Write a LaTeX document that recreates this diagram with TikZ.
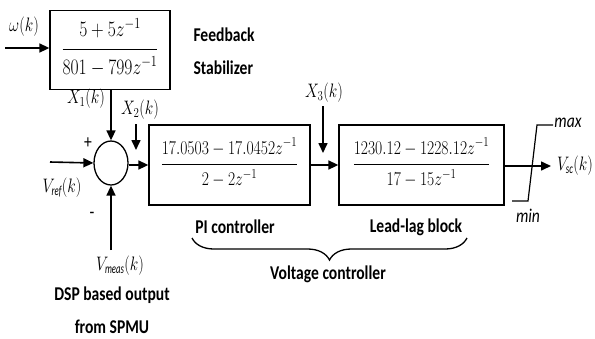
\RequirePackage{fix-cm}
\documentclass[tikz,border=0pt]{standalone}
\usepackage{amsmath}
\usepackage{graphicx}
\usepackage{fontspec}
\setmainfont{Carlito}[FakeStretch=0.8]
\usetikzlibrary{arrows.meta, positioning, shapes.geometric, decorations.pathreplacing}

\setlength{\arrayrulewidth}{1.6pt}
% narrow math, as the text is set
\newcommand{\nm}[1]{\scalebox{0.8}[1]{$#1$}}
% #1 gap over the bar, #2 strut under it
\newcommand{\blockfrac}[4]{%
  \scalebox{0.8}[1]{\begin{tabular}{@{}c@{}}$#3$\\[#1]\hline
    \rule{0pt}{#2}$#4$\end{tabular}}}

\begin{document}
\begin{tikzpicture}[
    x=1pt, y=-1pt,
    font=\fontsize{19.5}{22}\selectfont,
    block/.style={
        draw,
        line width=1.3pt,
        minimum height=80pt,
        inner sep=0pt,
        align=center
    },
    sumnode/.style={
        draw,
        line width=1.3pt,
        ellipse,
        minimum width=34pt,
        minimum height=44pt,
        inner sep=0pt
    },
    caption/.style={font=\bfseries\fontsize{19.5}{33.5}\selectfont, align=center},
    arrow/.style={-{Triangle[length=10pt,width=9pt]}, line width=1.6pt}
]
\useasboundingbox (0,0) rectangle (595,338);

% Blocks
\node[block, minimum width=120pt, minimum height=79pt,
      font=\fontsize{22}{26}\selectfont] (stab) at (110,50)
      {\blockfrac{5pt}{24pt}{5+5z^{-1}}{801-799z^{-1}}};
\node[sumnode] (sum) at (111,163) {};
\node[block, minimum width=161pt] (pi) at (229.5,165)
      {\blockfrac{3pt}{20pt}{17.0503-17.0452z^{-1}}{2-2z^{-1}}};
\node[block, minimum width=165pt] (lead) at (421.5,165)
      {\blockfrac{3pt}{20pt}{1230.12-1228.12z^{-1}}{17-15z^{-1}}};

% Labels
\node[caption, align=left, anchor=west] (fblbl) at (190,51) {Feedback\\Stabilizer};
\node (omega) at (24,27) {\nm{\omega(k)}};
\node (x1) at (86,99) {\nm{X_1(k)}};
\node (x2) at (140,110) {\nm{X_2(k)}};
\node (x3) at (324,93) {\nm{X_3(k)}};
\node (plus) at (88,143) {+};
\node (minus) at (92,215) {-};
\node (vref) at (62,188) {\nm{V_{\textit{ref}}(k)}};
\node (vmeas) at (120,266) {\nm{V_{\textit{meas}}(k)}};
\node[caption] (dsp) at (112,310) {DSP based output\\from SPMU};
\node[caption] (pilbl) at (235,227) {PI controller};
\node[caption] (leadlbl) at (416,227) {Lead-lag block};
\node[caption] (vclbl) at (328,274) {Voltage controller};
\node (vsc) at (575,166) {\nm{V_{\textit{sc}}(k)}};
\node[font=\itshape\fontsize{19.5}{22}\selectfont] (maxlbl) at (568,123) {max};
\node[font=\itshape\fontsize{19.5}{22}\selectfont] (minlbl) at (528,216) {min};

% Free ends
\coordinate (win) at (5,48);
\coordinate (vrefin) at (50,162);
\coordinate (vmeasin) at (111,250);
\coordinate (x2top) at (136,124);
\coordinate (x2tip) at (136,150);
\coordinate (x3top) at (323,106);
\coordinate (x3tip) at (323,153);
\coordinate (out) at (551,166);
\coordinate (satmin) at (512,201);
\coordinate (satlo) at (528,201);
\coordinate (sathi) at (537,125);
\coordinate (satmax) at (553,125);
\coordinate (bracel) at (192,238);
\coordinate (bracer) at (467,238);

% Connections
\draw[arrow] (win) -- (win -| stab.west);
\draw[arrow] (stab.south -| sum.north) -- (sum.north);
\draw[arrow] (vrefin) -- (sum.west);
\draw[arrow] (vmeasin) -- (sum.south);
\draw[arrow] (x2top) -- (x2tip);
\draw[arrow] (sum.east |- pi.west) -- (pi.west);
\draw[arrow] (pi.east) -- (lead.west);
\draw[arrow] (x3top) -- (x3tip);
\draw[arrow] (lead.east |- out) -- (out);

% Limiter
\draw[line width=1.2pt] (satmin) -- (satlo) -- (sathi) -- (satmax);

% Brace
\draw[line width=1.3pt, decorate, decoration={brace, mirror, amplitude=22pt}]
    (bracel) -- (bracer);

\end{tikzpicture}
\end{document}
